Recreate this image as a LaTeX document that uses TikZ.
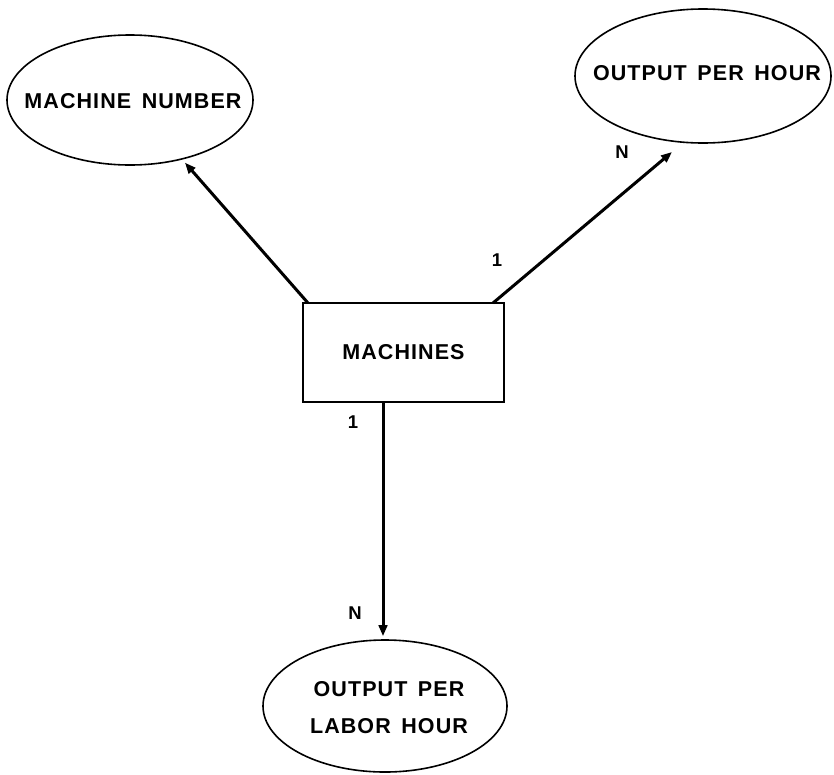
\documentclass[tikz,border=0pt]{standalone}
\usepackage{fontspec}
\setmainfont{Liberation Sans}[LetterSpace=5,WordSpace=1.5]
\usetikzlibrary{shapes.geometric,arrows.meta}
\begin{document}
\begin{tikzpicture}[x=1pt,y=-1pt,
  lbl/.style={font=\bfseries\fontsize{21.5}{37}\selectfont,align=center,inner sep=0pt},
  attr/.style={ellipse,draw,line width=1.6pt,inner sep=0pt},
  ent/.style={rectangle,draw,line width=1.6pt,inner sep=0pt},
  link/.style={line width=3pt,-{Triangle[length=11pt,width=8.5pt]}},
  card/.style={font=\bfseries\fontsize{18.5}{20}\selectfont,inner sep=0pt}]
\useasboundingbox (0,0) rectangle (834,774);
% entity
\node[ent,minimum width=201pt,minimum height=99pt] (mach) at (403.5,352.5) {};
\node[lbl] (macht) at (mach) {MACHINES};
% attributes
\node[attr,minimum width=246pt,minimum height=130pt] (num) at (130,100) {};
\node[lbl] (numt) at (133,101) {MACHINE NUMBER};
\node[attr,minimum width=256pt,minimum height=134pt] (oph) at (703,76) {};
\node[lbl] (opht) at (707,73) {OUTPUT PER HOUR};
\node[attr,minimum width=244pt,minimum height=132pt] (oplh) at (385,706) {};
\node[lbl] (oplht) at (389,708) {OUTPUT PER\\LABOR HOUR};
% connector ends on the entity box
\coordinate (mtl) at (308,303);
\coordinate (mtr) at (493,303);
\coordinate (mb) at (383,403);
\coordinate (tipR) at (672,152);
% connectors
\draw[link,shorten >=4pt] (mtl) -- (num);
\draw[link] (mtr) -- (tipR);
\draw[link,shorten >=3pt] (mb) -- (mb |- oplh.north);
% cardinalities
\node[card] (c1) at (497,260) {1};
\node[card] (c2) at (622,152) {N};
\node[card] (c3) at (353,422) {1};
\node[card] (c4) at (355,613) {N};
\end{tikzpicture}
\end{document}
